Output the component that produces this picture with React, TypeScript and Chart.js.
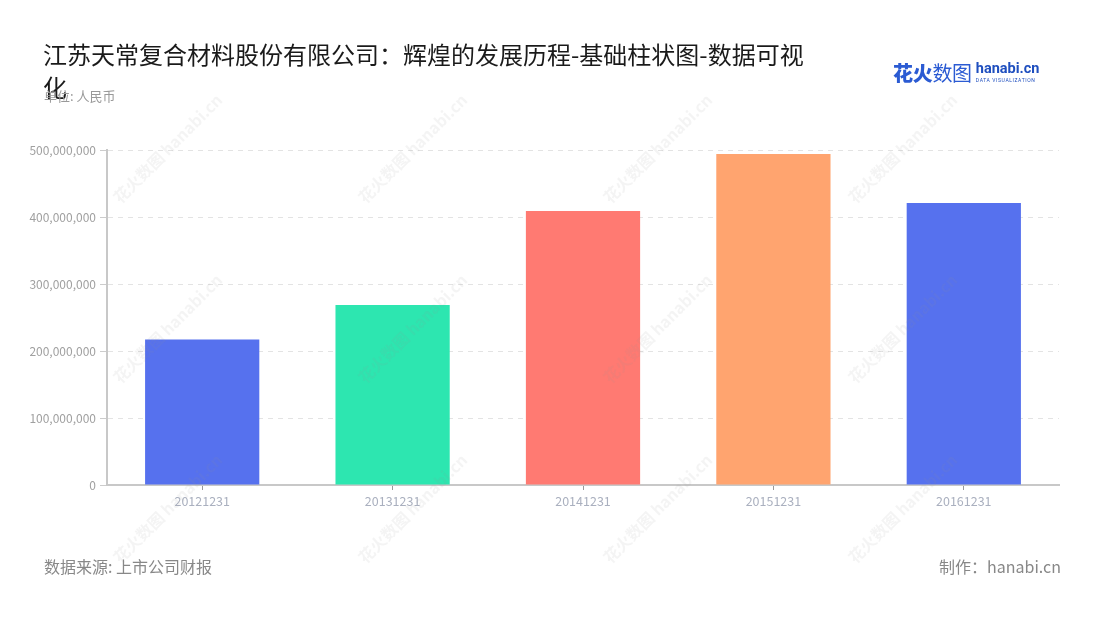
import React, { useEffect, useRef } from "react";
import { Chart, registerables } from "chart.js";

Chart.register(...registerables);

const categories = ["20121231", "20131231", "20141231", "20151231", "20161231"];
const values = [217000000, 268500000, 409000000, 494000000, 421000000];
const barColors = ["#5671EE", "#2DE6B0", "#FF7A72", "#FFA46F", "#5671EE"];
const yTicks = [0, 100000000, 200000000, 300000000, 400000000, 500000000];

const titleLine1 = "江苏天常复合材料股份有限公司：辉煌的发展历程-基础柱状图-数据可视";
const titleLine2 = "化";
const unitText = "单位: 人民币";
const sourceText = "数据来源: 上市公司财报";
const makerText = "制作：hanabi.cn";

const FONT = "'Noto Sans CJK SC', 'Noto Sans', sans-serif";

const wmPositions: [number, number][] = [];
[150, 330, 510].forEach((y) => [165, 410, 655, 900].forEach((x) => wmPositions.push([x, y])));

export default function App() {
  const ref = useRef<HTMLCanvasElement | null>(null);

  useEffect(() => {
    if (!ref.current) return;
    const chart = new Chart(ref.current, {
      type: "bar",
      data: {
        labels: categories,
        datasets: [
          {
            data: values,
            backgroundColor: barColors,
            borderWidth: 0,
            barPercentage: 0.6,
            categoryPercentage: 1,
          },
        ],
      },
      options: {
        responsive: false,
        animation: false,
        layout: { padding: { left: 0, right: 41, top: 150, bottom: 0 } },
        plugins: { legend: { display: false }, tooltip: { enabled: false } },
        scales: {
          x: {
            offset: true,
            grid: {
              offset: false,
              drawOnChartArea: false,
              drawTicks: true,
              tickLength: 5,
              color: "#999",
            },
            border: { display: true, color: "#c8c8c8", width: 2 },
            ticks: {
              color: "#aab0bf",
              font: { family: FONT, size: 12.5 },
              padding: 4,
              maxRotation: 0,
            },
            afterFit: (scale: any) => {
              scale.height = 620 - 485;
            },
          },
          y: {
            min: 0,
            max: 500000000,
            afterBuildTicks: (scale: any) => {
              scale.ticks = yTicks.map((v) => ({ value: v }));
            },
            grid: {
              color: "#e3e3e3",
              tickColor: "#cccccc",
              tickLength: 7,
              lineWidth: 1,
            },
            border: { display: true, color: "#c8c8c8", width: 2, dash: [5, 5] },
            ticks: {
              color: "#a0a0a0",
              font: { family: FONT, size: 12 },
              padding: 4,
              callback: (v: any) => Number(v).toLocaleString("en-US"),
            },
            afterFit: (scale: any) => {
              scale.width = 107;
            },
          },
        },
      },
    });
    return () => chart.destroy();
  }, []);

  return (
    <div
      style={{
        position: "absolute",
        left: 0,
        top: 0,
        width: 1100,
        height: 620,
        background: "#fff",
        fontFamily: FONT,
        overflow: "hidden",
      }}
    >
      <canvas ref={ref} width={1100} height={620} style={{ position: "absolute", left: 0, top: 0 }} />
      <div
        style={{
          position: "absolute",
          left: 43,
          top: 37,
          fontSize: 24,
          lineHeight: "33px",
          color: "#1a1a1a",
          whiteSpace: "nowrap",
        }}
      >
        {titleLine1}
        <br />
        {titleLine2}
      </div>
      <div style={{ position: "absolute", left: 44, top: 86, fontSize: 13, color: "#999" }}>{unitText}</div>
      <div style={{ position: "absolute", left: 893, top: 58, display: "flex", alignItems: "center" }}>
        <span style={{ fontSize: 20, color: "#2b5bd3", letterSpacing: -0.3 }}>
          <span style={{ fontWeight: 800 }}>花火</span>
          <span style={{ fontWeight: 400 }}>数图</span>
        </span>
        <span style={{ marginLeft: 4, display: "flex", flexDirection: "column", lineHeight: 1 }}>
          <span style={{ fontSize: 14.5, fontWeight: 700, color: "#1f4fbf", fontFamily: "Roboto, sans-serif" }}>
            hanabi.cn
          </span>
          <span style={{ fontSize: 5, color: "#1f4fbf", letterSpacing: 0.6, marginTop: 1, fontFamily: "Roboto, sans-serif" }}>
            DATA VISUALIZATION
          </span>
        </span>
      </div>
      {wmPositions.map(([x, y], i) => (
        <div
          key={i}
          style={{
            position: "absolute",
            left: x - 70,
            top: y - 12,
            width: 140,
            textAlign: "center",
            transform: "rotate(-45deg)",
            fontSize: 16,
            fontWeight: 700,
            color: "rgba(150,150,150,0.1)",
            whiteSpace: "nowrap",
            pointerEvents: "none",
          }}
        >
          花火数图 hanabi.cn
        </div>
      ))}
      <div style={{ position: "absolute", left: 44, top: 554, fontSize: 16, color: "#888" }}>{sourceText}</div>
      <div style={{ position: "absolute", right: 39, top: 554, fontSize: 16, color: "#888" }}>{makerText}</div>
    </div>
  );
}
